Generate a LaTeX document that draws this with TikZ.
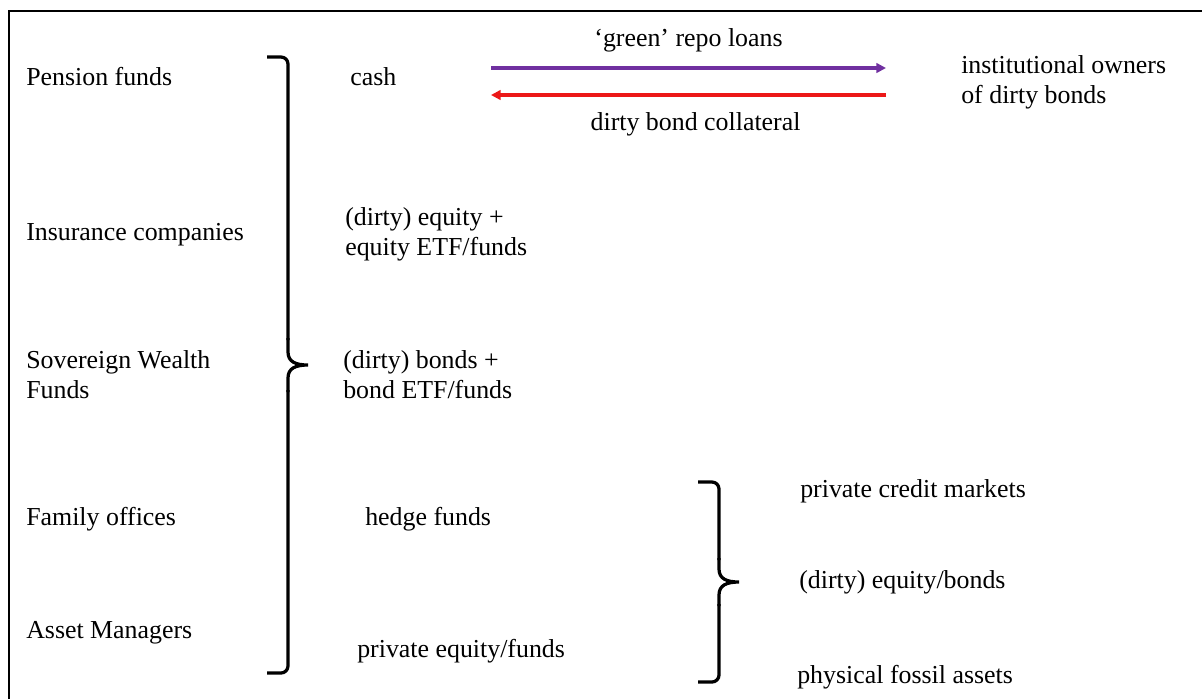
\documentclass[tikz,border=0pt]{standalone}
\usepackage{fontspec}
\setmainfont{Liberation Serif}
\usetikzlibrary{arrows.meta,positioning}
\definecolor{loanpurple}{RGB}{112,48,160}
\definecolor{collred}{RGB}{236,24,24}
\tikzset{
	txt/.style = {
		anchor=base west,
		inner sep=0pt,
		font=\fontsize{18.4}{21.3}\selectfont
	},
	twoline/.style = {
		txt,
		anchor=north west,
		align=left
	},
	flow/.style = {
		-{Triangle[length=0.24cm,width=0.24cm]},
		line width=2.3pt
	},
	bracket/.style = {
		line width=2.3pt,
		rounded corners=5pt
	}
}

\begin{document}
\begin{tikzpicture}[x=0.025cm, y=-0.025cm]
	
	\useasboundingbox (0,0) rectangle (1202,699);
	
	% --- Frame (only top and left edges show) ---
	\draw[line width=1.4pt] (9,699) -- (9,11) -- (1202,11);
	
	% --- Investors ---
	\node[txt] (pension) at (26,85) {Pension funds};
	\node[txt] (insurance) at (26,240) {Insurance companies};
	\node[twoline] (sovereign) at (26,350) {Sovereign Wealth\\Funds};
	\node[txt] (family) at (26,525) {Family offices};
	\node[txt] (asset) at (26,638) {Asset Managers};
	
	\draw[bracket] (267,57) -- (288,57) -- (288,340);
	\draw[line width=2.3pt] (288,338) -- (288,352) .. controls (288,362) and (296,365) .. (308,365)
		.. controls (296,365) and (288,368) .. (288,378) -- (288,392);
	\draw[bracket] (288,390) -- (288,673) -- (267,673);
	
	% --- Holdings ---
	\node[txt] (cash) at (350,85) {cash};
	\node[twoline] (equity) at (345,207) {(dirty) equity +\\equity ETF/funds};
	\node[twoline] (bonds) at (343,350) {(dirty) bonds +\\bond ETF/funds};
	\node[txt] (hedge) at (365,525) {hedge funds};
	\node[txt] (privEq) at (357,657) {private equity/funds};
	
	% --- Repo ---
	\coordinate (loanL) at (491,68);
	\coordinate (loanR) at (886,68);
	\coordinate (collR) at (886,95);
	\coordinate (collL) at (491,95);
	\draw[flow, loanpurple] (loanL) -- node[txt, anchor=base, above=10pt, text=black] (loanLbl) {‘green’ repo loans} (loanR);
	\draw[flow, collred] (collR) -- node[txt, anchor=north, below=11.5pt, xshift=5, text=black] (collLbl) {dirty bond collateral} (collL);
	\node[twoline] (owners) at (961,55) {institutional owners\\of dirty bonds};
	
	% --- Underlying exposure ---
	\draw[bracket] (698,482) -- (719,482) -- (719,560);
	\draw[line width=2.3pt] (719,558) -- (719,569) .. controls (719,579) and (727,582) .. (739,582)
		.. controls (727,582) and (719,585) .. (719,595) -- (719,606);
	\draw[bracket] (719,604) -- (719,682) -- (698,682);
	
	\node[txt] (credit) at (800,497) {private credit markets};
	\node[txt] (dirtyEB) at (799,588) {(dirty) equity/bonds};
	\node[txt] (fossil) at (797,683) {physical fossil assets};
	
\end{tikzpicture}
\end{document}
